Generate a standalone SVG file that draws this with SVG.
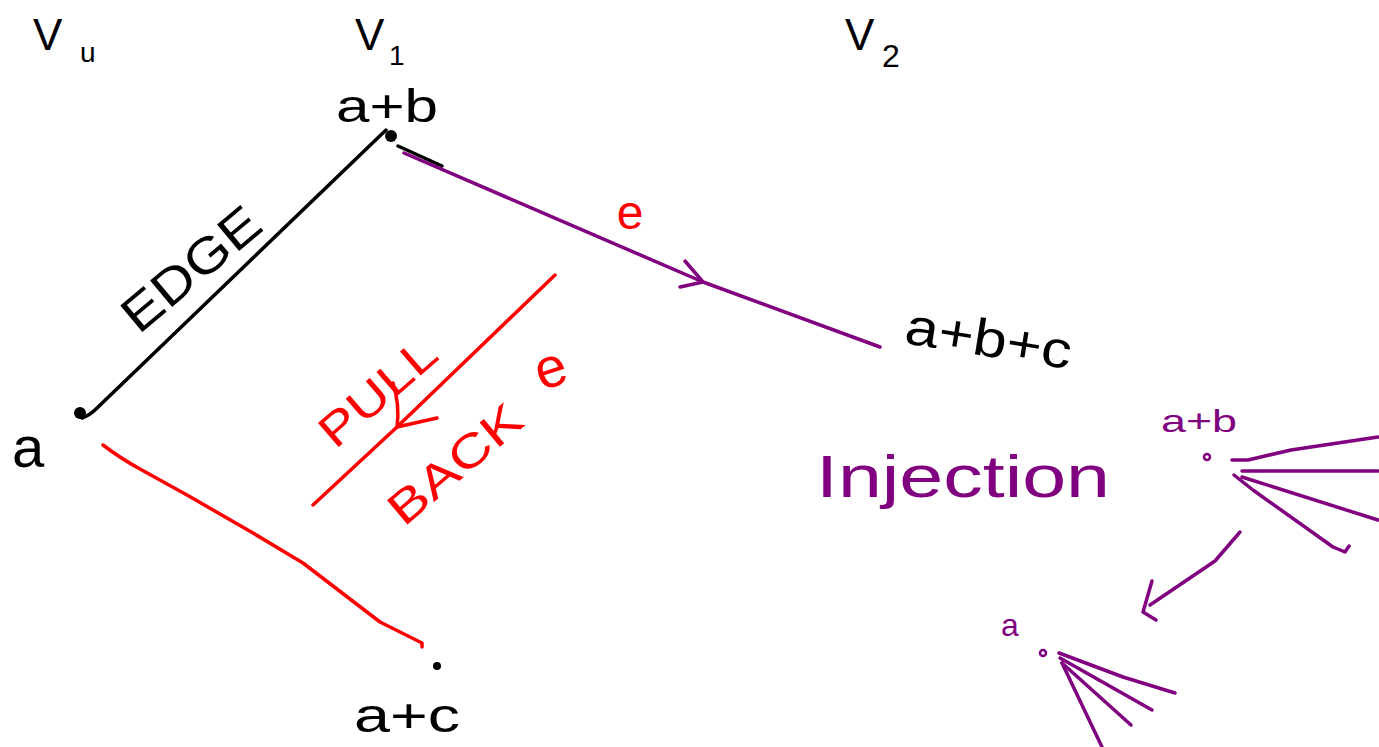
<svg xmlns="http://www.w3.org/2000/svg" width="1379" height="747" viewBox="0 0 1379 747">
<style>
.k{fill:#000}
.r{fill:#ff0000}
.p{fill:#800080}
.t{font-family:"Liberation Sans","DejaVu Sans",sans-serif}
.ln{fill:none;stroke-width:3.5;stroke-linecap:round;stroke-linejoin:round}
.sk{stroke:#000}
.sr{stroke:#ff0000}
.sp{stroke:#800080}
</style>
<rect width="1379" height="747" fill="#fff"/>
<g id="labels-top">
  <text class="t k" x="33" y="50" font-size="44">V</text>
  <text class="t k" x="80" y="62" font-size="28">u</text>
  <text class="t k" x="355" y="50" font-size="44">V</text>
  <text class="t k" x="389" y="65" font-size="28">1</text>
  <text class="t k" x="845" y="50" font-size="44">V</text>
  <text class="t k" x="882" y="67" font-size="32">2</text>
</g>
<g id="node-ab">
  <circle cx="391" cy="136" r="6" class="k"/>
  <text class="t k" x="336" y="122" font-size="46" textLength="102" lengthAdjust="spacingAndGlyphs">a+b</text>
</g>
<g id="node-a">
  <circle cx="80" cy="413" r="6" class="k"/>
  <text class="t k" x="12" y="467" font-size="58">a</text>
</g>
<g id="node-ac">
  <circle cx="437" cy="666" r="4" class="k"/>
  <text class="t k" x="354" y="732" font-size="48" textLength="106" lengthAdjust="spacingAndGlyphs">a+c</text>
</g>
<g id="node-abc">
  <text class="t k" x="903" y="343" font-size="52" textLength="168" lengthAdjust="spacingAndGlyphs" transform="rotate(9 903 343)">a+b+c</text>
</g>
<g id="connectors">
  <path class="ln sk" d="M82,418 Q90,415 96,409 L386,130"/>
  <path class="ln sk" d="M398,146 L442,166"/>
  <path class="ln sp" d="M404,153 L703,282 L880,347"/>
  <path class="ln sp" d="M685,261 L703,282 L680,287"/>
  <path class="ln sr" d="M103,445 Q120,458 140,469 L187,495 L253,533 L303,563 L380,622 L400,632 L422,643 L422,647"/>
  <path class="ln sr" d="M555,275 L397,427 L313,505"/>
  <path class="ln sr" d="M397,427 L437,418"/>
  <path class="ln sr" d="M393,383 Q400,405 397,427"/>
</g>
<g id="edge-labels">
  <text class="t k" x="202" y="282" font-size="50" text-anchor="middle" textLength="165" lengthAdjust="spacingAndGlyphs" transform="rotate(-40 202 282)">EDGE</text>
  <text class="t r" x="630" y="229" font-size="48" text-anchor="middle">e</text>
  <text class="t r" x="388" y="404" font-size="46" text-anchor="middle" textLength="140" lengthAdjust="spacingAndGlyphs" transform="rotate(-41 388 404)">PULL</text>
  <text class="t r" x="465" y="476" font-size="46" text-anchor="middle" textLength="160" lengthAdjust="spacingAndGlyphs" transform="rotate(-40 465 476)">BACK</text>
  <text class="t r" x="556" y="386" font-size="56" text-anchor="middle" transform="rotate(-18 556 386)">e</text>
</g>
<g id="injection">
  <text class="t p" x="816" y="497" font-size="60" textLength="294" lengthAdjust="spacingAndGlyphs">Injection</text>
</g>
<g id="inj-node-ab">
  <circle cx="1207" cy="457" r="3" fill="none" stroke="#800080" stroke-width="2.5"/>
  <text class="t p" x="1161" y="432" font-size="32" textLength="76" lengthAdjust="spacingAndGlyphs">a+b</text>
  <path class="ln sp" d="M1232,460 L1248,460 L1291,450 L1378,437"/>
  <path class="ln sp" d="M1242,471 L1378,471"/>
  <path class="ln sp" d="M1242,477 L1378,520"/>
  <path class="ln sp" d="M1234,475 L1253,490 L1333,547 L1345,552 L1349,546"/>
</g>
<g id="inj-arrow">
  <path class="ln sp" d="M1240,532 L1215,561 L1150,605"/>
  <path class="ln sp" d="M1152,581 L1143,612 L1156,620"/>
</g>
<g id="inj-node-a">
  <circle cx="1043" cy="653" r="3" fill="none" stroke="#800080" stroke-width="2.5"/>
  <text class="t p" x="1001" y="636" font-size="32">a</text>
  <path class="ln sp" d="M1059,653 L1123,677 L1175,693"/>
  <path class="ln sp" d="M1060,658 L1152,710"/>
  <path class="ln sp" d="M1062,663 L1131,725"/>
  <path class="ln sp" d="M1062,663 L1102,747"/>
</g>
</svg>
